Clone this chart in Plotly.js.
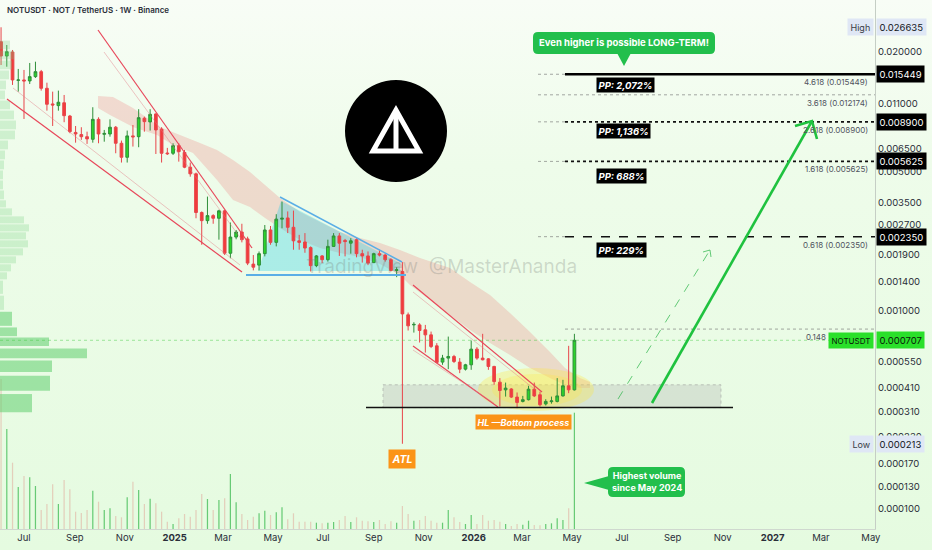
<!DOCTYPE html>
<html><head><meta charset="utf-8">
<script src="https://cdn.plot.ly/plotly-3.0.1.min.js"></script>
<style>
html,body{margin:0;padding:0;}
body{width:932px;height:550px;overflow:hidden;background:linear-gradient(180deg,#f8fdf6 0%,#eefcea 30%,#e5fbe0 100%);}
#chart{width:932px;height:550px;}
</style></head><body><div id="chart"></div>
<script>
// ---------------- DATA ----------------
const dates = [
'2024-06-03','2024-06-10','2024-06-17','2024-06-24','2024-07-01','2024-07-08','2024-07-15','2024-07-22','2024-07-29','2024-08-05',
'2024-08-12','2024-08-19','2024-08-26','2024-09-02','2024-09-09','2024-09-16','2024-09-23','2024-09-30','2024-10-07','2024-10-14',
'2024-10-21','2024-10-28','2024-11-04','2024-11-11','2024-11-18','2024-11-25','2024-12-02','2024-12-09','2024-12-16','2024-12-23',
'2024-12-30','2025-01-06','2025-01-13','2025-01-20','2025-01-27','2025-02-03','2025-02-10','2025-02-17','2025-02-24','2025-03-03',
'2025-03-10','2025-03-17','2025-03-24','2025-03-31','2025-04-07','2025-04-14','2025-04-21','2025-04-28','2025-05-05','2025-05-12',
'2025-05-19','2025-05-26','2025-06-02','2025-06-09','2025-06-16','2025-06-23','2025-06-30','2025-07-07','2025-07-14','2025-07-21',
'2025-07-28','2025-08-04','2025-08-11','2025-08-18','2025-08-25','2025-09-01','2025-09-08','2025-09-15','2025-09-22','2025-09-29',
'2025-10-06','2025-10-13','2025-10-20','2025-10-27','2025-11-03','2025-11-10','2025-11-17','2025-11-24','2025-12-01','2025-12-08',
'2025-12-15','2025-12-22','2025-12-29','2026-01-05','2026-01-12','2026-01-19','2026-01-26','2026-02-02','2026-02-09','2026-02-16',
'2026-02-23','2026-03-02','2026-03-09','2026-03-16','2026-03-23','2026-03-30','2026-04-06','2026-04-13','2026-04-20','2026-04-27',
'2026-05-04'];
const openP = [
0.02253,0.01909,0.02000,0.01440,0.01446,0.01430,0.01503,0.01592,0.01313,0.01095,
0.01074,0.01110,0.00952,0.00787,0.00768,0.00749,0.00727,0.00916,0.00770,0.00773,
0.00836,0.00694,0.00590,0.00756,0.00749,0.00928,0.00889,0.00975,0.00818,0.00620,
0.00618,0.00675,0.00624,0.00526,0.00487,0.00311,0.00283,0.00300,0.00291,0.00317,
0.00194,0.00234,0.00248,0.00229,0.00171,0.00169,0.00193,0.00254,0.00220,0.00288,
0.00292,0.00262,0.00224,0.00221,0.00207,0.00168,0.00188,0.00180,0.00210,0.00237,
0.00225,0.00218,0.00227,0.00193,0.00188,0.00174,0.00193,0.00190,0.00180,0.00159,
0.00157,0.000950,0.000845,0.000845,0.000798,0.000753,0.000663,0.000549,0.000575,0.000586,
0.000549,0.000506,0.000532,0.000638,0.000575,0.000570,0.000522,0.000435,0.000398,0.000402,
0.000366,0.000348,0.000355,0.000401,0.000376,0.000338,0.000347,0.000348,0.000371,0.000417,
0.000398];
const highP = [
0.026635,0.02169,0.02047,0.01643,0.01624,0.01761,0.01787,0.01624,0.01401,0.01263,
0.01278,0.01215,0.00964,0.00848,0.00836,0.00794,0.01054,0.00938,0.00810,0.00916,
0.00848,0.00716,0.00804,0.00858,0.01030,0.00945,0.01030,0.00983,0.00836,0.00658,
0.00694,0.00694,0.00643,0.00555,0.00494,0.00315,0.00374,0.00305,0.00321,0.00321,
0.00277,0.00254,0.00273,0.00235,0.00190,0.00198,0.00269,0.00266,0.00305,0.00353,
0.00315,0.00318,0.00240,0.00245,0.00210,0.00190,0.00190,0.00227,0.00245,0.00245,
0.00229,0.00231,0.00231,0.00202,0.00198,0.00195,0.00202,0.00193,0.00183,0.00165,
0.00175,0.000975,0.000872,0.000862,0.000845,0.000782,0.000684,0.000597,0.000738,0.000597,
0.000575,0.000538,0.000705,0.000653,0.000762,0.000575,0.000526,0.000456,0.000433,0.000406,
0.000386,0.000371,0.000417,0.000433,0.000390,0.000357,0.000368,0.000456,0.000447,0.000663,
0.000762];
const lowP = [
0.01720,0.01686,0.01365,0.01263,0.00920,0.01380,0.01480,0.01278,0.01013,0.00848,
0.01013,0.00886,0.00780,0.00699,0.00722,0.00689,0.00699,0.00694,0.00707,0.00749,
0.00618,0.00555,0.00555,0.00668,0.00663,0.00794,0.00804,0.00613,0.00555,0.00606,
0.00606,0.00561,0.00520,0.00471,0.00291,0.00214,0.00273,0.00273,0.00227,0.00190,
0.00183,0.00228,0.00220,0.00169,0.00159,0.00159,0.00187,0.00214,0.00210,0.00259,
0.00245,0.00202,0.00202,0.00195,0.00157,0.00165,0.00173,0.00176,0.00209,0.00188,
0.00187,0.00193,0.00185,0.00174,0.00169,0.00173,0.00187,0.00176,0.00157,0.00147,
0.000213,0.000792,0.000773,0.000689,0.000613,0.000646,0.000543,0.000532,0.000506,0.000543,
0.000483,0.000498,0.000502,0.000564,0.000560,0.000502,0.000422,0.000328,0.000368,0.000362,
0.000322,0.000344,0.000352,0.000366,0.000328,0.000332,0.000339,0.000344,0.000368,0.000383,
0.000395];
const closeP = [
0.01909,0.02007,0.01446,0.01446,0.01430,0.01503,0.01592,0.01313,0.01091,0.01082,
0.01117,0.00956,0.00794,0.00773,0.00749,0.00730,0.00916,0.00773,0.00778,0.00836,
0.00694,0.00590,0.00756,0.00748,0.00934,0.00892,0.00971,0.00810,0.00618,0.00615,
0.00675,0.00630,0.00526,0.00487,0.00311,0.00283,0.00300,0.00291,0.00317,0.00194,
0.00234,0.00248,0.00227,0.00173,0.00165,0.00193,0.00254,0.00220,0.00288,0.00291,
0.00262,0.00224,0.00220,0.00206,0.00168,0.00188,0.00180,0.00210,0.00237,0.00218,
0.00222,0.00224,0.00193,0.00188,0.00173,0.00193,0.00190,0.00180,0.00159,0.00160,
0.000960,0.000836,0.000850,0.000792,0.000753,0.000658,0.000547,0.000575,0.000586,0.000553,
0.000506,0.000532,0.000638,0.000575,0.000564,0.000522,0.000438,0.000395,0.000406,0.000366,
0.000344,0.000355,0.000401,0.000371,0.000335,0.000348,0.000350,0.000371,0.000417,0.000398,
0.000707];
const volume = [
1500,1000,663,420,530,517,430,190,250,447,
250,490,397,173,160,190,383,273,190,207,
130,117,317,473,390,250,303,257,173,73,
50,107,150,123,190,350,300,190,290,307,
550,267,150,90,123,157,183,140,167,217,
97,157,73,73,73,63,57,63,70,90,
130,70,117,83,77,70,90,50,77,63,
230,150,83,90,130,83,63,63,190,117,
70,50,140,50,140,83,90,73,50,30,
50,43,83,40,37,50,57,107,90,207,
1163];
// Visible-range volume profile rows (price band top / bottom, relative volume)
const profHigh = [0.02298,0.02047,0.01823,0.01624,0.01446,0.01288,0.01147,0.01021,0.009096,0.008101,
0.007215,0.006425,0.005722,0.005096,0.004539,0.004042,0.0036,0.003281,0.00299,0.002726,
0.002485,0.002265,0.002065,0.001881,0.001715,0.001563,0.001425,0.001198,0.000994,0.000826,
0.000736,0.000648,0.000564,0.000474,0.000384];
const profLow = [0.02047,0.01823,0.01624,0.01446,0.01288,0.01147,0.01021,0.009096,0.008101,0.007215,
0.006425,0.005722,0.005096,0.004539,0.004042,0.0036,0.003281,0.00299,0.002726,0.002485,
0.002265,0.002065,0.001881,0.001715,0.001563,0.001425,0.001198,0.000994,0.000826,0.000736,
0.000656,0.00057,0.000485,0.000389,0.000302];
const profVol = [10,14,12,9,6,5,10,14,16,15,8,5,4,3,3,4,6,12,24,29,26,28,23,16,11,7,3,4,12,17,49,87,52,50,32];
const valueAreaLow = 0.00099;

const yTickVals = [0.036,0.02,0.011,0.0065,0.005,0.0035,0.0027,0.0019,0.0014,0.001,0.00075,0.00055,0.00041,0.00031,0.00023,0.00017,0.00013,0.0001];
const xTickVals = ['2024-07-01','2024-09-01','2024-11-01','2025-01-01','2025-03-01','2025-05-01','2025-07-01','2025-09-01','2025-11-01','2026-01-01','2026-03-01','2026-05-01','2026-07-01','2026-09-01','2026-11-01','2027-01-01','2027-03-01','2027-05-01'];
const xTickText = ['Jul','Sep','Nov','<b>2025</b>','Mar','May','Jul','Sep','Nov','<b>2026</b>','Mar','May','Jul','Sep','Nov','<b>2027</b>','Mar','May'];

const fibRatios = ['4.618','3.618','2.618','1.618','0.618'];
const fibPrices = [0.015449,0.012174,0.0089,0.005625,0.00235];
const fibLast = '0.148', fibLastPrice = 0.000805;
const ppLabels = ['PP: 2,072%','PP: 1,136%','PP: 688%','PP: 229%'];
const ppPrices = [0.015449,0.0089,0.005625,0.00235];
const highVal = 0.026635, lowVal = 0.000213, lastVal = 0.000707, supportVal = 0.000324;
const boxTop = 0.000422, boxBottom = 0.000324;

// ---------------- DRAWING HELPERS (plot-area pixel grid -> paper) ----------------
const PW = 875, PH = 529;
const X = x => +(x / PW).toFixed(5);
const Y = y => +(1 - y / PH).toFixed(5);
const poly = (pts, close) => pts.map((p, i) => (i ? 'L' : 'M') + X(p[0]) + ',' + Y(p[1])).join(' ') + (close ? ' Z' : '');
const rr = (x0, y0, x1, y1, r) => `M${X(x0+r)},${Y(y0)} L${X(x1-r)},${Y(y0)} Q${X(x1)},${Y(y0)} ${X(x1)},${Y(y0+r)} L${X(x1)},${Y(y1-r)} Q${X(x1)},${Y(y1)} ${X(x1-r)},${Y(y1)} L${X(x0+r)},${Y(y1)} Q${X(x0)},${Y(y1)} ${X(x0)},${Y(y1-r)} L${X(x0)},${Y(y0+r)} Q${X(x0)},${Y(y0)} ${X(x0+r)},${Y(y0)} Z`;

const ribbon = [[98,96],[113,97],[133,108],[160,127],[175,133],[200,143],[217,150],[233,160],[250,172],[265,185],[280,198],[300,212],[320,222],[340,232],[360,238],[380,243],[400,250],[420,258],[450,268],[470,282],[490,295],[510,313],[530,332],[550,352],[565,368],[580,378],[590,382],
[590,388],[580,388],[565,385],[550,378],[530,368],[510,355],[490,343],[470,330],[450,315],[430,300],[410,285],[400,275],[380,264],[360,257],[340,253],[320,248],[300,240],[280,228],[265,218],[250,207],[233,200],[217,180],[193,153],[173,145],[157,135],[133,127],[110,115],[98,108]];

const GREEN_C = '#2bd42b', RED_C = '#f23b3b';
const volColors = closeP.map((c, i) => c >= openP[i] ? 'rgba(60,185,80,0.75)' : 'rgba(225,150,140,0.45)');
const profColors = profLow.map(v => v < valueAreaLow ? 'rgba(95,205,110,0.55)' : 'rgba(120,210,130,0.28)');

// ---------------- TRACES ----------------
const traces = [
  { type:'bar', orientation:'h', xaxis:'x3', yaxis:'y',
    x: profVol, y: profHigh.map((h,i)=>(h+profLow[i])/2), width: profHigh.map((h,i)=>(h-profLow[i])*0.88),
    marker:{color:profColors, line:{width:0}}, hoverinfo:'skip', showlegend:false },
  { type:'bar', xaxis:'x', yaxis:'y2', x: dates, y: volume, width: 1.3e8,
    marker:{color:volColors, line:{width:0}}, hoverinfo:'skip', showlegend:false },
  { type:'candlestick', xaxis:'x', yaxis:'y', x: dates, open: openP, high: highP, low: lowP, close: closeP,
    increasing:{line:{color:'#2f8f3a', width:1}, fillcolor:GREEN_C},
    decreasing:{line:{color:'#e8454a', width:1}, fillcolor:RED_C},
    whiskerwidth:0, hoverinfo:'skip', showlegend:false }
];

// ---------------- SHAPES ----------------
const shapes = [];
const below = (o) => shapes.push(Object.assign({layer:'below', xref:'paper', yref:'paper'}, o));
const above = (o) => shapes.push(Object.assign({layer:'above', xref:'paper', yref:'paper'}, o));

below({type:'path', path: poly(ribbon, true), fillcolor:'rgba(236,110,110,0.23)', line:{width:0}});
below({type:'path', path: poly([[258,271],[281,201],[400,263],[400,271]], true), fillcolor:'rgba(40,205,230,0.33)', line:{width:0}});
below({type:'rect', xref:'paper', yref:'y', x0:X(383), x1:X(721), y0:boxBottom, y1:boxTop, fillcolor:'rgba(185,190,185,0.38)', line:{color:'rgba(150,150,150,0.5)', width:1, dash:'dot'}});
below({type:'circle', x0:X(478), x1:X(594), y0:Y(411), y1:Y(368), fillcolor:'rgba(255,232,60,0.3)', line:{width:0}});
below({type:'circle', x0:X(492), x1:X(582), y0:Y(406), y1:Y(374), fillcolor:'rgba(255,232,60,0.25)', line:{width:0}});

const redL = {color:'#e8475a', width:1.2}, pinkL = {color:'rgba(225,120,130,0.55)', width:0.8};
above({type:'line', x0:X(7), y0:Y(99), x1:X(242), y1:Y(272), line:redL});
above({type:'line', x0:X(13), y0:Y(88), x1:X(240), y1:Y(265), line:pinkL});
above({type:'line', x0:X(98), y0:Y(30), x1:X(252), y1:Y(248), line:redL});
above({type:'line', x0:X(104), y0:Y(52), x1:X(242), y1:Y(240), line:pinkL});
above({type:'line', x0:X(413), y0:Y(285), x1:X(542), y1:Y(392), line:redL});
above({type:'line', x0:X(413), y0:Y(292), x1:X(533), y1:Y(388), line:pinkL});
above({type:'line', x0:X(413), y0:Y(346), x1:X(498), y1:Y(407), line:redL});
above({type:'line', x0:X(413), y0:Y(350), x1:X(494), y1:Y(403), line:pinkL});
above({type:'line', x0:X(280), y0:Y(197), x1:X(402), y1:Y(262), line:{color:'#5aaee6', width:1.5}});
above({type:'line', x0:X(246), y0:Y(275), x1:X(406), y1:Y(275), line:{color:'#5aaee6', width:1.8}});

const lvl = (price, x0, x1, line) => above({type:'line', xref:'paper', yref:'y', x0:X(x0), x1:x1, y0:price, y1:price, line});
const greyDot = {color:'rgba(110,110,110,0.6)', width:1, dash:'dot'};
lvl(fibPrices[0], 538, X(565), greyDot);
lvl(fibPrices[0], 565, 1, {color:'#000', width:2.6});
lvl(fibPrices[1], 538, 1, greyDot);
lvl(fibPrices[2], 538, X(565), greyDot);
lvl(fibPrices[2], 565, 1, {color:'#111', width:1.8, dash:'dot'});
lvl(fibPrices[3], 538, X(565), greyDot);
lvl(fibPrices[3], 565, 1, {color:'#111', width:1.8, dash:'dot'});
lvl(fibPrices[4], 538, X(565), greyDot);
lvl(fibPrices[4], 565, 1, {color:'#111', width:1.6, dash:'dash'});
lvl(fibLastPrice, 565, 1, greyDot);
lvl(lastVal, 0, 1, {color:'rgba(60,200,60,0.45)', width:1, dash:'dot'});
lvl(supportVal, 366, X(733), {color:'#111', width:1.5});

above({type:'circle', x0:X(345), x1:X(447), y0:Y(182), y1:Y(80), fillcolor:'#000', line:{width:0}});
above({type:'path', path: poly([[396,110],[373,151],[419,151]], true), line:{color:'#fff', width:5}});
above({type:'line', x0:X(396), y0:Y(112), x1:X(396), y1:Y(150), line:{color:'#fff', width:5}});

const arrowC = '#1fc23f';
above({type:'line', x0:X(652), y0:Y(403), x1:X(812), y1:Y(121), line:{color:arrowC, width:2.6}});
above({type:'path', path: poly([[795,126],[812,121],[817,139]], false), line:{color:arrowC, width:2.6}});
above({type:'line', x0:X(618), y0:Y(399), x1:X(710), y1:Y(250), line:{color:'rgba(40,180,70,0.7)', width:1, dash:'dash'}});
above({type:'path', path: poly([[703,252],[710,250],[711,257]], false), line:{color:'rgba(40,180,70,0.7)', width:1}});

const bubbleC = '#22bf4c';
above({type:'path', path: rr(533,32,715,54,5), fillcolor:bubbleC, line:{width:0}});
above({type:'path', path: poly([[617,53],[624,66],[631,53]], true), fillcolor:bubbleC, line:{width:0}});
above({type:'path', path: rr(608,467,685,497,5), fillcolor:bubbleC, line:{width:0}});
above({type:'path', path: poly([[609,476],[584,483],[609,490]], true), fillcolor:bubbleC, line:{width:0}});

// ---------------- ANNOTATIONS ----------------
const FONT = 'Inter, "Noto Sans", "DejaVu Sans", sans-serif';
const ann = [];
const A = (o) => ann.push(Object.assign({showarrow:false, xref:'paper', yref:'paper', xanchor:'center', yanchor:'middle'}, o));

A({x:X(5), y:Y(10), xanchor:'left', text:'NOTUSDT · NOT / TetherUS · 1W · Binance', font:{family:FONT, size:8, color:'#2a2e39', weight:600}});
A({x:X(441), y:Y(266), text:'TradingView  @MasterAnanda', font:{family:FONT, size:19, color:'rgba(120,125,120,0.28)'}});
A({x:X(624), y:Y(43), text:'<b>Even higher is possible LONG-TERM!</b>', font:{family:FONT, size:9.5, color:'#fff'}});
A({x:X(646.5), y:Y(482), text:'<b>Highest volume<br>since May 2024</b>', align:'center', font:{family:FONT, size:9, color:'#fff'}});
A({x:X(475), y:Y(422), xanchor:'left', text:'<b><i>HL —Bottom process</i></b>', bgcolor:'#fb9418', borderpad:1.5, font:{family:FONT, size:9, color:'#fff'}});
A({x:X(402), y:Y(459), text:'<b><i>ATL</i></b>', bgcolor:'#fb9418', borderpad:2.5, font:{family:FONT, size:10.5, color:'#fff'}});

const ppY = [85, 131.5, 176, 250];
ppLabels.forEach((t, i) => A({x:X(596), y:Y(ppY[i]), xanchor:'left', text:'<b><i>'+t+'</i></b>', bgcolor:'#000', borderpad:1.5, font:{family:FONT, size:9.5, color:'#fff'}}));

fibRatios.forEach((r, i) => A({yref:'y', x:X(870), y:Math.log10(fibPrices[i]), yshift:-8, xanchor:'right',
  text: r + ' (' + fibPrices[i].toFixed(6) + ')', font:{family:FONT, size:8, color:'#50535e'}}));
A({yref:'y', x:X(828), y:Math.log10(fibLastPrice), yshift:-8, xanchor:'right', text:fibLast, font:{family:FONT, size:8, color:'#50535e'}});

const tag = (v, txt, bg, fg, anchor, sz) => A({yref:'y', x:1, y:Math.log10(v), xanchor:anchor, xshift: anchor==='left'?1:-1,
  text:txt, bgcolor:bg, borderpad:2.5, font:{family:FONT, size:sz || 9.5, color:fg}});
tag(highVal, highVal.toFixed(6), '#dfe7f5', '#131722', 'left');
tag(highVal, 'High', '#dfe7f5', '#3a3d46', 'right', 9);
ppPrices.forEach(v => tag(v, v.toFixed(6), '#000', '#fff', 'left'));
tag(lastVal, lastVal.toFixed(6), '#2ae02a', '#0b1a0b', 'left');
tag(lastVal, 'NOTUSDT', '#2ae02a', '#0b1a0b', 'right', 8);
tag(lowVal, lowVal.toFixed(6), '#dfe7f5', '#131722', 'left');
tag(lowVal, 'Low', '#dfe7f5', '#3a3d46', 'right', 9);

// ---------------- LAYOUT ----------------
const layout = {
  width:932, height:550,
  margin:{l:0, r:57, t:0, b:21, pad:0},
  paper_bgcolor:'rgba(0,0,0,0)', plot_bgcolor:'rgba(0,0,0,0)',
  showlegend:false, boxgap:0.32,
  font:{family:FONT, size:9.5, color:'#2a2e39'},
  xaxis:{type:'date', range:['2024-06-01 17:00','2027-05-06'], rangeslider:{visible:false},
    tickmode:'array', tickvals:xTickVals, ticktext:xTickText, showgrid:false, zeroline:false,
    showline:true, linecolor:'#cfd8cf', linewidth:1, ticks:'', tickfont:{size:9.5, color:'#2a2e39'}, fixedrange:true},
  xaxis3:{overlaying:'x', anchor:'y', range:[0, PW], visible:false, fixedrange:true},
  yaxis:{type:'log', side:'right', range:[-4.1008, -1.4372], tickmode:'array', tickvals:yTickVals,
    ticktext: yTickVals.map(v => v.toFixed(6)), showgrid:false, zeroline:false,
    showline:true, linecolor:'#c5cec5', linewidth:1, ticks:'', tickfont:{size:9.5, color:'#2a2e39'}, fixedrange:true},
  yaxis2:{overlaying:'y', range:[0, PH*10], visible:false, fixedrange:true},
  shapes: shapes,
  annotations: ann
};

Plotly.newPlot('chart', traces, layout, {staticPlot:true, displayModeBar:false});
</script>
</body></html>
